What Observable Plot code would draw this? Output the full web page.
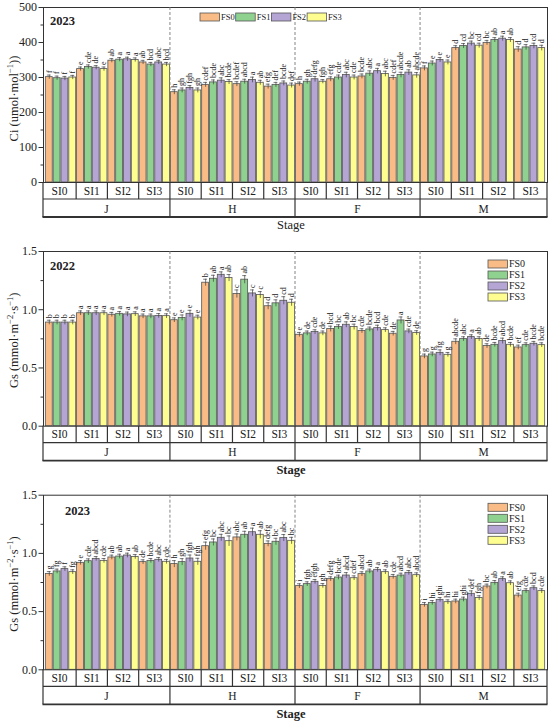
<!DOCTYPE html>
<html><head><meta charset="utf-8">
<script src="https://cdn.jsdelivr.net/npm/d3@7"></script>
<script src="https://cdn.jsdelivr.net/npm/@observablehq/plot@0.6"></script>
<style>body{margin:0;background:#fff} #c svg{display:block} #c svg text{font-family:'Liberation Serif','Times New Roman',serif}</style>
</head><body><div id="c"></div><script>
const stages = ["J","H","F","M"];
const siLevels = ["SI0","SI1","SI2","SI3"];
const fsLevels = ["FS0","FS1","FS2","FS3"];
const fsColors = ["#F9BC86","#8FD28F","#B4A5D5","#FDFD90"];

// Panel 1: Ci 2023 (order: stage -> SI -> FS)
const ci2023 = [
 301,298,297,300, 324,330,328,324, 348,351,352,350, 343,337,343,337,
 258,263,270,263, 279,286,291,287, 281,288,293,285, 274,279,283,277,
 281,288,295,288, 295,300,307,300, 303,311,318,310, 299,307,314,306,
 326,340,350,343, 384,390,397,391, 399,407,411,407, 380,386,390,384];
const ci2023Err = [
 6,6,6,6, 6,6,6,6, 6,6,6,6, 6,6,6,6,
 7,7,7,7, 7,7,8,7, 7,7,8,7, 7,7,7,7,
 6,7,8,6, 7,7,8,7, 7,8,8,8, 7,8,8,8,
 7,7,7,7, 7,7,7,7, 7,7,7,7, 8,8,8,8];
const ci2023Letters = [
 "f","f","f","f","e","cde","de","e","ab","a","a","a","ab","bcd","abc","bcd",
 "h","gh","fgh","gh","cdef","bcde","abc","bcde","bcdef","abcd","a","ab","efg","def","bcde","def",
 "h","gh","defg","fgh","efg","cde","abc","cde","bcde","abc","a","abc","cdef","abcde","ab","abcde",
 "f","e","e","e","d","cd","bc","cd","bc","ab","a","ab","d","d","cd","d"];

// Panel 2: Gs 2022
const gs2022 = [
 0.89,0.89,0.89,0.89, 0.97,0.97,0.97,0.97, 0.957,0.965,0.96,0.962, 0.943,0.943,0.947,0.945,
 0.91,0.93,0.965,0.933, 1.232,1.266,1.30,1.272, 1.135,1.258,1.14,1.126, 1.03,1.055,1.077,1.06,
 0.785,0.797,0.808,0.797, 0.834,0.851,0.871,0.851, 0.817,0.831,0.842,0.825, 0.794,0.908,0.814,0.80,
 0.599,0.616,0.63,0.613, 0.725,0.748,0.765,0.748, 0.688,0.699,0.731,0.699, 0.676,0.696,0.708,0.696];
const gs2022Err = [
 0.02,0.02,0.02,0.02, 0.02,0.02,0.02,0.02, 0.02,0.02,0.02,0.02, 0.02,0.02,0.02,0.02,
 0.02,0.025,0.03,0.02, 0.03,0.03,0.025,0.03, 0.035,0.035,0.03,0.03, 0.03,0.03,0.035,0.03,
 0.02,0.02,0.02,0.02, 0.025,0.02,0.025,0.025, 0.02,0.02,0.025,0.02, 0.02,0.03,0.02,0.02,
 0.02,0.02,0.025,0.02, 0.025,0.02,0.02,0.02, 0.02,0.02,0.025,0.02, 0.02,0.02,0.02,0.02];
const gs2022Letters = [
 "b","b","b","b","a","a","a","a","a","a","a","a","a","a","a","a",
 "e","e","e","e","b","ab","a","ab","c","ab","c","c","d","d","cd","d",
 "e","de","cde","de","bcd","bc","ab","bc","cde","bcde","bcd","cde","de","a","cde","de",
 "g","g","fg","g","abcde","abc","a","ab","de","bcde","abcd","bcde","ef","cde","bcde","bcde"];

// Panel 3: Gs 2023
const gs2023 = [
 0.824,0.845,0.865,0.839, 0.919,0.933,0.953,0.936, 0.965,0.973,0.982,0.97, 0.925,0.936,0.945,0.928,
 0.908,0.925,0.956,0.928, 1.062,1.094,1.134,1.105, 1.137,1.16,1.182,1.16, 1.082,1.10,1.132,1.108,
 0.719,0.736,0.756,0.721, 0.779,0.793,0.81,0.787, 0.822,0.845,0.859,0.839, 0.799,0.81,0.833,0.813,
 0.558,0.575,0.601,0.581, 0.587,0.604,0.653,0.616, 0.716,0.747,0.779,0.744, 0.638,0.676,0.701,0.676];
const gs2023Err = [
 0.02,0.02,0.02,0.02, 0.02,0.02,0.02,0.02, 0.02,0.02,0.02,0.02, 0.02,0.02,0.02,0.02,
 0.03,0.03,0.03,0.03, 0.035,0.03,0.03,0.045, 0.03,0.03,0.035,0.035, 0.025,0.03,0.03,0.03,
 0.02,0.02,0.02,0.02, 0.02,0.02,0.025,0.02, 0.02,0.02,0.02,0.02, 0.02,0.02,0.02,0.02,
 0.02,0.02,0.02,0.02, 0.02,0.02,0.025,0.02, 0.02,0.02,0.02,0.02, 0.02,0.02,0.02,0.02];
const gs2023Letters = [
 "g","fg","f","fg","e","cde","abcd","cde","ab","ab","a","ab","de","bcde","abc","cde",
 "h","gh","fgh","fgh","efg","bc","abc","bc","abc","ab","a","ab","defg","bc","abc","bc",
 "i","fgh","efgh","gh","defg","bcde","abcd","cdef","abcd","ab","a","ab","cde","abcd","abc","abcd",
 "i","hi","ghi","hi","hi","ghi","def","fgh","bc","ab","a","ab","efg","cde","bcd","cde"];

const FONT = "'Liberation Serif','Times New Roman',serif";

function panel(o) {
  const rows = [];
  let i = 0;
  for (const st of stages) for (const s of siLevels) for (const f of fsLevels) {
    rows.push({key: `${st}|${s}|${f}`, stage: st, si: s, fs: f, v: o.values[i], e: o.errors[i], l: o.letters[i]});
    i++;
  }
  const keys = rows.map(d => d.key);
  const chart = Plot.plot({
    width: 550, height: o.height,
    marginLeft: 43, marginRight: 3, marginTop: o.mt, marginBottom: o.mb,
    style: {fontFamily: FONT, background: "#fff", overflow: "visible", color: "#222"},
    x: {type: "band", domain: keys, paddingInner: 0.12, paddingOuter: 0.3, axis: null},
    y: {domain: o.yDomain, axis: null},
    color: {domain: fsLevels, range: fsColors},
    marks: [
      Plot.axisY({ticks: o.yMinor, tickSize: 2.5, tickFormat: () => "", label: null, stroke: "#333"}),
      Plot.axisY({ticks: o.yTicks, tickSize: 4.5, tickPadding: 2, tickFormat: o.yFormat, label: null, fontSize: 12, stroke: "#333", fill: "#222"}),
      Plot.barY(rows, {x: "key", y: "v", fill: "fs", stroke: "#555", strokeWidth: 0.8}),
      Plot.ruleX(rows, {x: "key", y1: d => d.v - d.e, y2: d => d.v + d.e, stroke: "#444", strokeWidth: 0.7}),
      Plot.tickY(rows, {x: "key", y: d => d.v + d.e, insetLeft: 1.5, insetRight: 1.5, stroke: "#444", strokeWidth: 0.7}),
      Plot.frame({stroke: "#333", strokeWidth: 1})
    ]
  });
  const svg = d3.select(chart);
  const x = chart.scale("x");
  const y = chart.scale("y");
  const bw = x.bandwidth;
  const L = 43, R = 550 - 3, T = o.mt, B = o.height - o.mb;
  const left = k => x.apply(k), right = k => x.apply(k) + bw;
  const g = svg.append("g").attr("font-family", FONT).attr("fill", "#222").attr("text-anchor", "start");
  // significance letters (rotated, reading upward)
  rows.forEach(d => {
    const cx = x.apply(d.key) + bw / 2, cy = y.apply(d.v + d.e) - 1.5;
    g.append("text").attr("transform", `translate(${cx + 2.8},${cy}) rotate(-90)`)
      .attr("font-size", 8).attr("text-anchor", "start").text(d.l);
  });
  // stage boundaries
  const stageB = [];
  for (let s = 1; s < stages.length; s++) {
    const a = right(`${stages[s-1]}|SI3|FS3`), b = left(`${stages[s]}|SI0|FS0`);
    stageB.push((a + b) / 2);
  }
  const stageEdges = [L, ...stageB, R];
  stageB.forEach(xx => {
    g.append("line").attr("x1", xx).attr("x2", xx).attr("y1", T).attr("y2", B)
      .attr("stroke", "#777").attr("stroke-width", 0.9).attr("stroke-dasharray", "3,2");
  });
  const lineAttr = sel => sel.attr("stroke", "#333").attr("stroke-width", 1.2);
  g.append("line").attr("x1", L).attr("x2", L).attr("y1", B).attr("y2", B + 35).call(lineAttr);
  g.append("line").attr("x1", R).attr("x2", R).attr("y1", B).attr("y2", B + 35).call(lineAttr);
  g.append("line").attr("x1", L).attr("x2", R).attr("y1", B + 17).attr("y2", B + 17).call(lineAttr);
  g.append("line").attr("x1", L - 0.5).attr("x2", R + 0.5).attr("y1", B + 35).attr("y2", B + 35).attr("stroke", "#333").attr("stroke-width", 1.8);
  stageB.forEach(xx => g.append("line").attr("x1", xx).attr("x2", xx).attr("y1", B).attr("y2", B + 35).call(lineAttr));
  stages.forEach((st, si) => {
    const sEdges = [stageEdges[si]];
    for (let k = 1; k < siLevels.length; k++) {
      const a = right(`${st}|${siLevels[k-1]}|FS3`), b = left(`${st}|${siLevels[k]}|FS0`);
      sEdges.push((a + b) / 2);
    }
    sEdges.push(stageEdges[si + 1]);
    for (let k = 1; k < siLevels.length; k++) {
      g.append("line").attr("x1", sEdges[k]).attr("x2", sEdges[k]).attr("y1", B).attr("y2", B + 17).call(lineAttr);
    }
    siLevels.forEach((s, k) => {
      g.append("text").attr("x", (sEdges[k] + sEdges[k+1]) / 2).attr("y", B + 12.5)
        .attr("text-anchor", "middle").attr("font-size", 11.5).text(s);
    });
    g.append("text").attr("x", (stageEdges[si] + stageEdges[si+1]) / 2).attr("y", B + 30.5)
      .attr("text-anchor", "middle").attr("font-size", 11.5).text(st);
  });
  g.append("text").attr("x", 291).attr("y", B + o.stageDy).attr("text-anchor", "middle")
    .attr("font-size", 12.5).attr("font-weight", o.stageBold ? "bold" : "normal").text("Stage");
  g.append("text").attr("x", o.titleX).attr("y", o.titleY).attr("font-size", 12.5)
    .attr("text-anchor", "start").attr("font-weight", "bold").text(o.title);
  const yl = g.append("text").attr("text-anchor", "middle").attr("font-size", 12.5)
    .attr("transform", `translate(18,${(T + B) / 2 + o.ylShift}) rotate(-90)`);
  o.yLabel.forEach(p => {
    const t = yl.append("tspan").text(p.t);
    if (p.sup) t.attr("font-size", 8.5).attr("dy", -5);
    if (p.after) t.attr("dy", 5);
  });
  const color = chart.scale("color");
  fsLevels.forEach((f, k) => {
    let sx, sy, fsz;
    if (o.legend === "h") { sx = 200 + k * 35.7; sy = T + 6; fsz = 8.5; }
    else { sx = 488; sy = T + o.legTop + k * 11; fsz = 10; }
    g.append("rect").attr("x", sx).attr("y", sy).attr("width", 19.5).attr("height", 8)
      .attr("fill", color.apply(f)).attr("stroke", "#555").attr("stroke-width", 0.8);
    g.append("text").attr("x", sx + 21).attr("y", sy + 7.3).attr("font-size", fsz)
      .attr("text-anchor", "start").text(f);
  });
  return chart;
}

const c = document.getElementById("c");
c.append(panel({
  values: ci2023, errors: ci2023Err, letters: ci2023Letters,
  yDomain: [0, 500], yTicks: [0,100,200,300,400,500], yMinor: [50,150,250,350,450], yFormat: d3.format("d"),
  height: 241, mt: 7, mb: 59, title: "2023", titleX: 50, titleY: 25,
  yLabel: [{t: "Ci (umol·mol"}, {t: "−1", sup: true}, {t: "))", after: true}], ylShift: 4,
  legend: "h", stageDy: 47, stageBold: false
}));
c.append(panel({
  values: gs2022, errors: gs2022Err, letters: gs2022Letters,
  yDomain: [0, 1.5], yTicks: [0,0.5,1.0,1.5], yMinor: [0.25,0.75,1.25], yFormat: d3.format(".1f"),
  height: 241, mt: 10, mb: 56.3, title: "2022", titleX: 50, titleY: 29,
  yLabel: [{t: "Gs (mmol·m"}, {t: "−2", sup: true}, {t: "·s", after: true}, {t: "−1", sup: true}, {t: ")", after: true}], ylShift: 2,
  legend: "v", legTop: 9, stageDy: 48, stageBold: true
}));
c.append(panel({
  values: gs2023, errors: gs2023Err, letters: gs2023Letters,
  yDomain: [0, 1.5], yTicks: [0,0.5,1.0,1.5], yMinor: [0.25,0.75,1.25], yFormat: d3.format(".1f"),
  height: 242, mt: 12.7, mb: 54.7, title: "2023", titleX: 65, titleY: 33,
  yLabel: [{t: "Gs (mmol·m"}, {t: "−2", sup: true}, {t: "·s", after: true}, {t: "−1", sup: true}, {t: ")", after: true}], ylShift: 2,
  legend: "v", legTop: 8.6, stageDy: 49, stageBold: true
}));
</script></body></html>
